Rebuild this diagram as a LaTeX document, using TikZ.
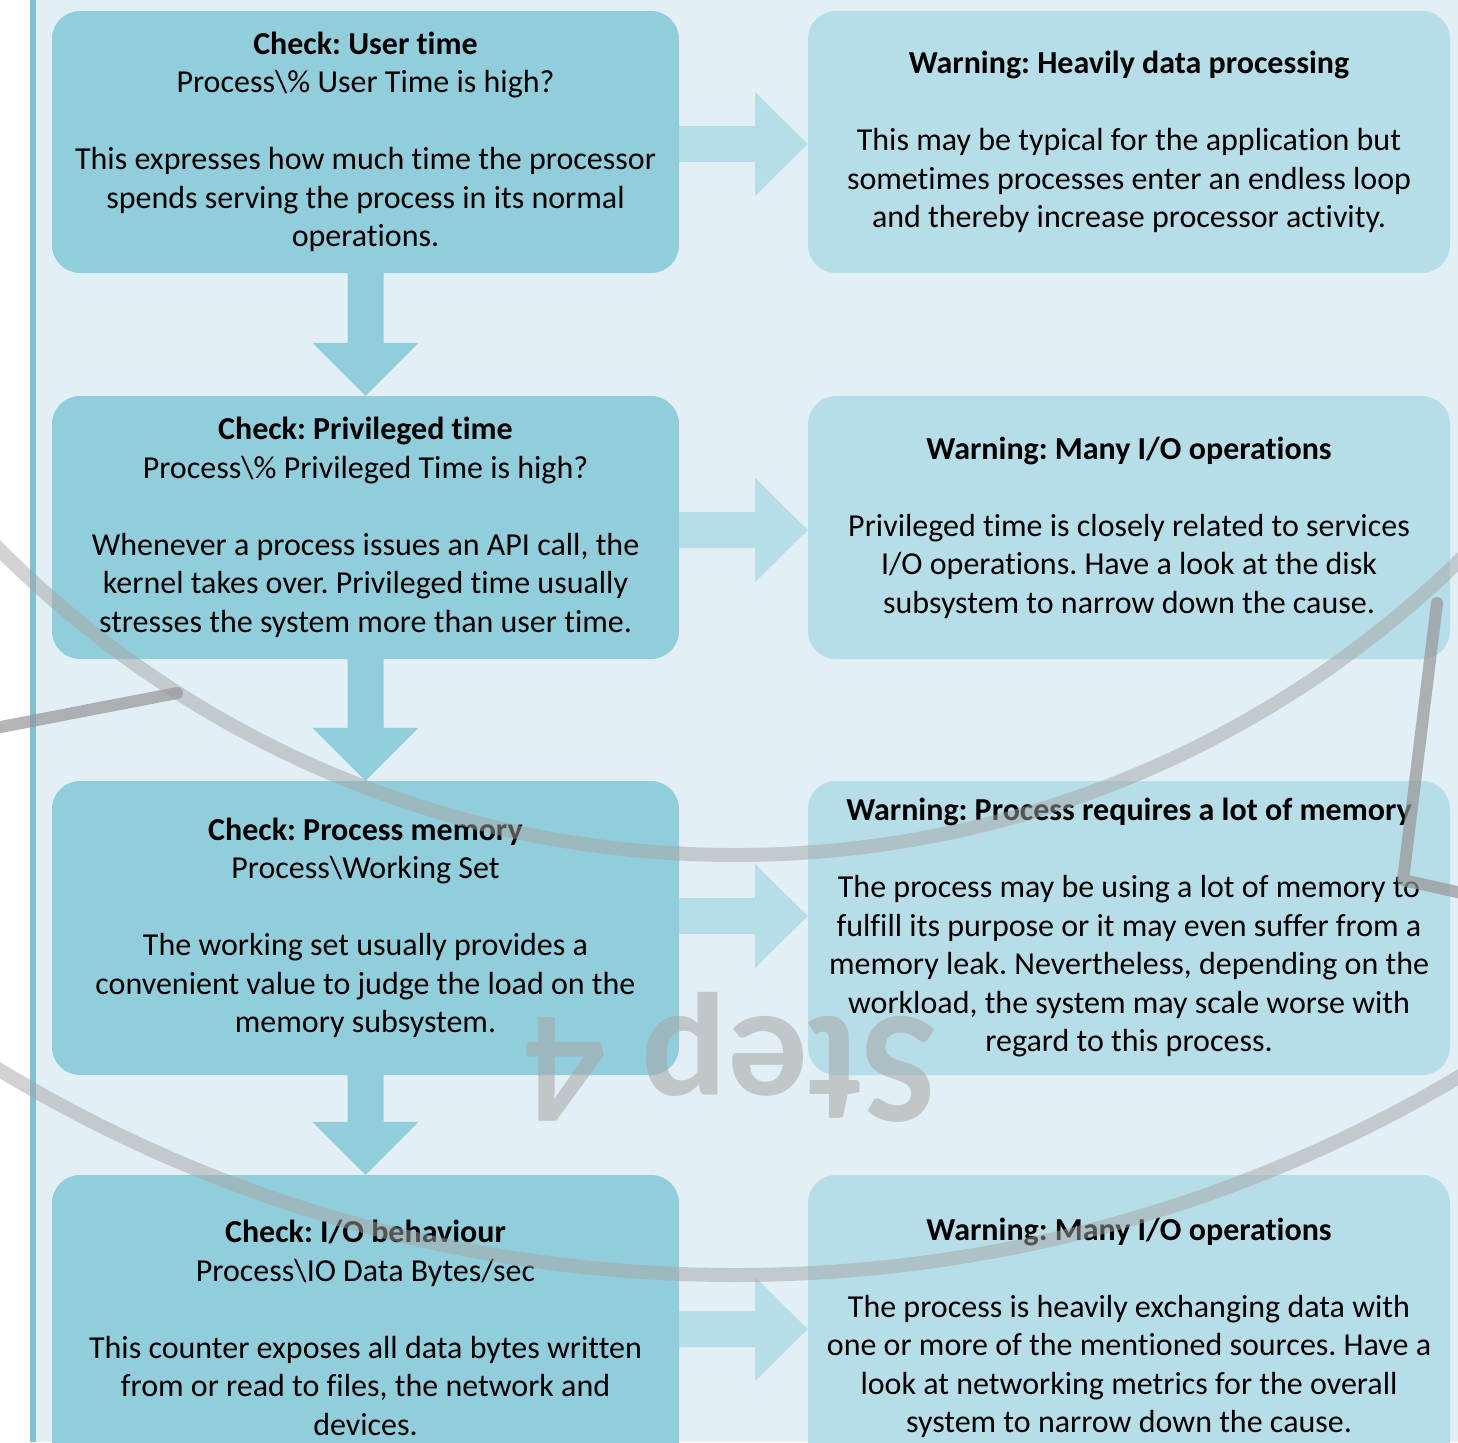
\documentclass[tikz,border=0pt]{standalone}
\usepackage{fontspec}
\setmainfont[RawFeature={-liga;-clig;-dlig;-calt}]{Carlito}
\usetikzlibrary{calc}
\definecolor{bgc}{RGB}{226,240,245}
\definecolor{lboxc}{RGB}{146,205,220}
\definecolor{rboxc}{RGB}{183,222,232}
\definecolor{edgec}{RGB}{126,194,212}
\definecolor{arcc}{RGB}{166,166,166}
\definecolor{linec}{RGB}{150,150,150}
\tikzset{
  box/.style={rectangle, rounded corners=28pt, inner sep=0pt, align=center,
    font=\fontsize{32}{38.5}\selectfont\frenchspacing, text=black},
  lbox/.style={box, fill=lboxc, minimum width=627pt},
  rbox/.style={box, fill=rboxc, minimum width=642pt},
  darr/.style={fill=lboxc},
  rarr/.style={fill=rboxc},
  ghost/.style={draw=arcc, draw opacity=0.5, line width=14pt},
  pline/.style={draw=linec, draw opacity=0.7, line width=12pt, line cap=round, line join=round},
}
\newcommand{\DownArr}[2]{% from node #1 to node #2
  \fill[darr] ($(#1.south)+(-18,0)$) -- ($(#1.south)+(18,0)$) -- ($(#2.north)+(18,-53)$)
   -- ($(#2.north)+(53,-53)$) -- (#2.north) -- ($(#2.north)+(-53,-53)$) -- ($(#2.north)+(-18,-53)$) -- cycle;}
\newcommand{\RightArr}[3]{% from node #1 to node #2 at height #3
  \fill[rarr] (#1.east |- 0,#3-18) -- (755,#3-18) -- (755,#3-52) -- (#2.west |- 0,#3)
   -- (755,#3+52) -- (755,#3+18) -- (#1.east |- 0,#3+18) -- cycle;}
\begin{document}
\begin{tikzpicture}[x=1pt,y=-1pt]
\useasboundingbox (0,0) rectangle (1458,1442);
\clip (0,0) rectangle (1458,1442);
\fill[white] (0,0) rectangle (30,1442);
\fill[edgec] (30,0) rectangle (36,1442);
\fill[bgc] (36,0) rectangle (1458,1442);
% boxes
\node[lbox, minimum height=262pt] (c1) at (365.5,142) {\textbf{Check: User time}\\ Process\textbackslash\% User Time is high?\\[38.5pt] This expresses how much time the processor\\ spends serving the process in its normal\\ operations.};
\node[rbox, minimum height=262pt] (w1) at (1129,142) {\textbf{Warning: Heavily data processing}\\[38.5pt] This may be typical for the application but\\ sometimes processes enter an endless loop\\ and thereby increase processor activity.};
\node[lbox, minimum height=263pt] (c2) at (365.5,527.5) {\textbf{Check: Privileged time}\\ Process\textbackslash\% Privileged Time is high?\\[38.5pt] Whenever a process issues an API call, the\\ kernel takes over. Privileged time usually\\ stresses the system more than user time.};
\node[rbox, minimum height=263pt] (w2) at (1129,527.5) {\textbf{Warning: Many I/O operations}\\[38.5pt] Privileged time is closely related to services\\ I/O operations. Have a look at the disk\\ subsystem to narrow down the cause.};
\node[lbox, minimum height=294pt] (c3) at (365.5,928) {\textbf{Check: Process memory}\\ Process\textbackslash Working Set\\[38.5pt] The working set usually provides a\\ convenient value to judge the load on the\\ memory subsystem.};
\node[rbox, minimum height=294pt] (w3) at (1129,928) {\textbf{Warning: Process requires a lot of memory}\\[38.5pt] The process may be using a lot of memory to\\ fulfill its purpose or it may even suffer from a\\ memory leak. Nevertheless, depending on the\\ workload, the system may scale worse with\\ regard to this process.};
\node[lbox, minimum height=306pt] (c4) at (365.5,1328) {\textbf{Check: I/O behaviour}\\ Process\textbackslash IO Data Bytes/sec\\[38.5pt] This counter exposes all data bytes written\\ from or read to files, the network and\\ devices.};
\node[rbox, minimum height=306pt] (w4) at (1129,1328) {\textbf{Warning: Many I/O operations}\\[38.5pt] The process is heavily exchanging data with\\ one or more of the mentioned sources. Have a\\ look at networking metrics for the overall\\ system to narrow down the cause.};
% arrows
\DownArr{c1}{c2}
\DownArr{c2}{c3}
\DownArr{c3}{c4}
\RightArr{c1}{w1}{144}
\RightArr{c2}{w2}{530}
\RightArr{c3}{w3}{916}
\RightArr{c4}{w4}{1329}
% watermark
\node[rotate=180, anchor=base, inner sep=0pt, font=\fontsize{160}{160}\selectfont\bfseries, text=arcc, text opacity=0.55] (wm) at (731,1017) {Step 4};
% gray strokes
\draw[ghost] (735,-183) circle[radius=1038pt];
\draw[ghost] (735,-145) circle[radius=1420pt];
\coordinate (p1) at (-20,731);
\coordinate (p2) at (177,693);
\draw[pline] (p1) -- (p2);
\coordinate (q1) at (1437,603);
\coordinate (q2) at (1403,880);
\coordinate (q3) at (1480,897);
\draw[pline] (q1) -- (q2) -- (q3);
\end{tikzpicture}
\end{document}
